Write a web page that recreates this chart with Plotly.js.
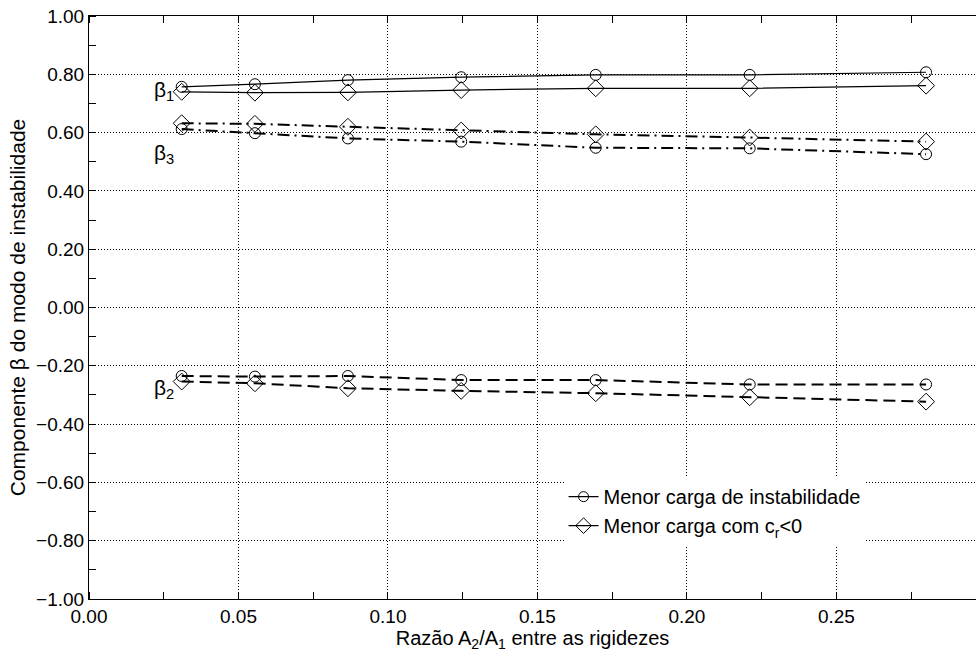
<!DOCTYPE html>
<html>
<head>
<meta charset="utf-8">
<script src="https://cdn.plot.ly/plotly-3.0.1.min.js"></script>
<style>html,body{margin:0;padding:0;background:#fff;}#chart{width:976px;height:656px;}</style>
</head>
<body>
<div id="chart"></div>
<script>
// x: stiffness ratio A2/A1
const ratio = [0.031, 0.0555, 0.0866, 0.1245, 0.1695, 0.221, 0.28];
// beta1
const b1_minLoad = [0.757, 0.766, 0.780, 0.790, 0.798, 0.798, 0.807];
const b1_crNeg   = [0.740, 0.737, 0.738, 0.746, 0.752, 0.752, 0.761];
// beta3
const b3_minLoad = [0.612, 0.598, 0.580, 0.569, 0.548, 0.546, 0.526];
const b3_crNeg   = [0.632, 0.630, 0.620, 0.607, 0.594, 0.583, 0.569];
// beta2
const b2_minLoad = [-0.235, -0.237, -0.235, -0.249, -0.249, -0.264, -0.264];
const b2_crNeg   = [-0.254, -0.260, -0.277, -0.286, -0.294, -0.308, -0.323];

const seriesNames = ["Menor carga de instabilidade", "Menor carga com c<sub>r</sub>&lt;0"];
const yTickVals = [-1, -0.8, -0.6, -0.4, -0.2, 0, 0.2, 0.4, 0.6, 0.8, 1];
const xTickVals = [0, 0.05, 0.1, 0.15, 0.2, 0.25];

const FONT = "Liberation Sans, Arial, sans-serif";
const circ = {symbol: 'circle-open', size: 11, color: '#000', line: {width: 1, color: '#000'}};
const diam = {symbol: 'diamond-open', size: 13, color: '#000', line: {width: 1, color: '#000'}};
const dashdot = '12px,5px,2px,5px';
const dashed = '12px,6px';
const GRIDDASH = '1px,2px';

function tr(y, marker, dash, width, name) {
  return {x: ratio, y: y, type: 'scatter', mode: 'lines+markers',
    line: {color: '#000', width: width, dash: dash}, marker: marker,
    name: name, showlegend: false};
}

const data = [
  tr(b1_minLoad, circ, 'solid', 1.2, seriesNames[0]),
  tr(b1_crNeg, diam, 'solid', 1.2, seriesNames[1]),
  tr(b3_minLoad, circ, dashdot, 2, seriesNames[0]),
  tr(b3_crNeg, diam, dashdot, 2, seriesNames[1]),
  tr(b2_minLoad, circ, dashed, 2, seriesNames[0]),
  tr(b2_crNeg, diam, dashed, 2, seriesNames[1]),
  // legend entries (no data drawn)
  {x: [null], y: [null], type: 'scatter', mode: 'lines+markers', line: {color: '#000', width: 1.2}, marker: {symbol: 'circle-open', size: 10, color: '#000', line: {width: 1}}, name: seriesNames[0], showlegend: true},
  {x: [null], y: [null], type: 'scatter', mode: 'lines+markers', line: {color: '#000', width: 1.2}, marker: {symbol: 'diamond-open', size: 12, color: '#000', line: {width: 1}}, name: seriesNames[1], showlegend: true},
  // dummy for top axis
  {x: [null], y: [null], xaxis: 'x2', yaxis: 'y', type: 'scatter', mode: 'markers', showlegend: false, hoverinfo: 'skip'}
];

const layout = {
  width: 976, height: 656,
  margin: {l: 89, r: 0, t: 16, b: 57},
  paper_bgcolor: '#fff', plot_bgcolor: '#fff',
  font: {family: FONT, size: 19, color: '#000'},
  showlegend: true,
  legend: {x: 0.535, y: 0.209, xanchor: 'left', yanchor: 'top', bgcolor: '#fff', borderwidth: 0,
    font: {family: FONT, size: 20, color: '#000'}, tracegroupgap: 0, itemwidth: 30},
  xaxis: {
    range: [0, 0.2967], tickvals: xTickVals, tickformat: '.2f',
    ticks: '',
    minor: {ticks: 'inside', dtick: 0.025, tick0: 0, ticklen: 7, tickcolor: '#000', showgrid: false},
    showgrid: true, gridcolor: '#000', griddash: GRIDDASH, gridwidth: 1,
    showline: true, linecolor: '#000', linewidth: 1, mirror: true,
    zeroline: false,
    title: {text: 'Razão A<sub>2</sub>/A<sub>1</sub> entre as rigidezes', font: {family: FONT, size: 20}, standoff: 0},
    tickfont: {family: FONT, size: 19}
  },
  xaxis2: {
    overlaying: 'x', side: 'top', matches: 'x', range: [0, 0.2967],
    tickvals: xTickVals, showticklabels: false, ticks: '', showgrid: false, zeroline: false, showline: false,
    minor: {ticks: 'inside', dtick: 0.025, tick0: 0, ticklen: 7, tickcolor: '#000', showgrid: false}
  },
  yaxis: {
    range: [-1, 1], tickvals: yTickVals, tickformat: '.2f',
    ticks: '',
    minor: {ticks: 'inside', dtick: 0.1, tick0: 0, ticklen: 7, tickcolor: '#000', showgrid: false},
    showgrid: true, gridcolor: '#000', griddash: GRIDDASH, gridwidth: 1,
    showline: true, linecolor: '#000', linewidth: 1, mirror: false,
    zeroline: false,
    title: {text: 'Componente β do modo de instabilidade', font: {family: FONT, size: 21}, standoff: 4},
    tickfont: {family: FONT, size: 19}
  },
  annotations: [
    {x: 0.025, y: 0.742, xref: 'x', yref: 'y', text: 'β<sub>1</sub>', showarrow: false, font: {family: FONT, size: 21}},
    {x: 0.025, y: 0.525, xref: 'x', yref: 'y', text: 'β<sub>3</sub>', showarrow: false, font: {family: FONT, size: 21}},
    {x: 0.025, y: -0.278, xref: 'x', yref: 'y', text: 'β<sub>2</sub>', showarrow: false, font: {family: FONT, size: 21}}
  ]
};

Plotly.newPlot('chart', data, layout, {displayModeBar: false, staticPlot: true});
</script>
</body>
</html>
